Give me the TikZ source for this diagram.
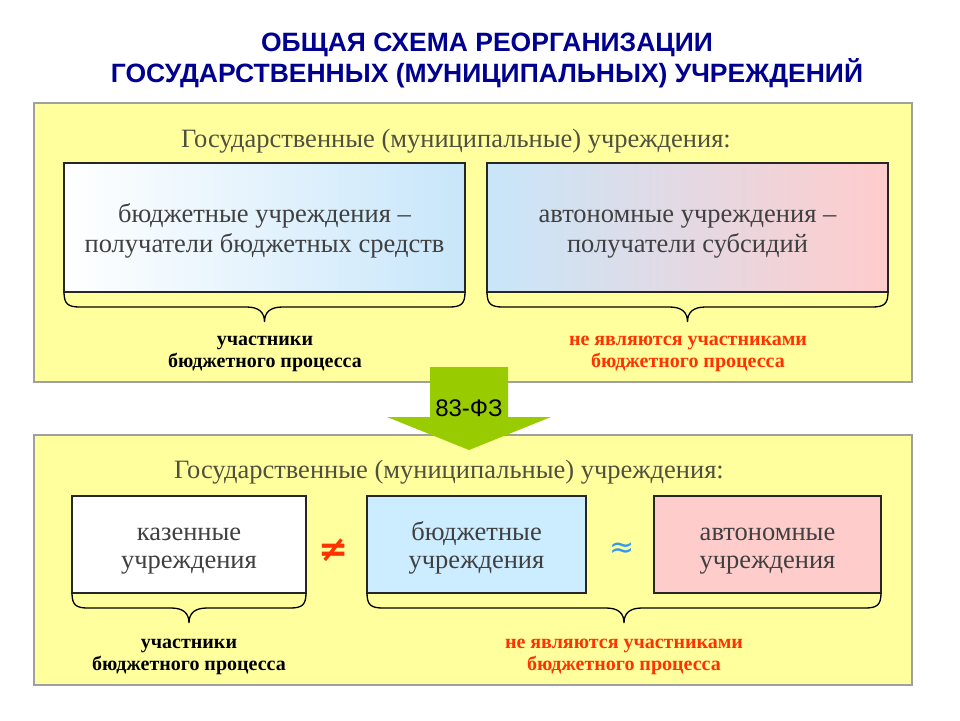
\documentclass[tikz,border=0pt]{standalone}
\usepackage{fontspec}
\setmainfont{Liberation Serif}
\newfontfamily\arialfont{Liberation Sans}
\newfontfamily\symfont{DejaVu Sans}
\usetikzlibrary{calc}
\definecolor{panelyellow}{HTML}{FFFF9E}
\definecolor{panelborder}{HTML}{A0A0A0}
\definecolor{titleblue}{HTML}{000090}
\definecolor{arrowgreen}{HTML}{99CC00}
\definecolor{redtext}{HTML}{FF3300}
\definecolor{boxtext}{HTML}{404040}
\definecolor{labeltext}{HTML}{505040}
\definecolor{lightblue}{HTML}{C8E6FA}
\definecolor{lightblueB}{HTML}{CCECFF}
\definecolor{lightpink}{HTML}{FFCCCC}
\definecolor{approxblue}{HTML}{3399EE}
\newcommand{\drawbrace}[2]{%
 \draw[bracestyle] let \p1=(#1), \p2=(#2), \p3=($(#1)!0.5!(#2)$) in
 (\x1,\y1) .. controls (\x1,\y1-12pt) and (\x1+4pt,\y1-15pt) .. (\x1+16pt,\y1-15pt)
 -- (\x3-18pt,\y1-15pt) .. controls (\x3-6pt,\y1-15pt) and (\x3,\y1-20pt) .. (\x3,\y1-30pt)
 .. controls (\x3,\y1-20pt) and (\x3+6pt,\y1-15pt) .. (\x3+18pt,\y1-15pt)
 -- (\x2-16pt,\y1-15pt) .. controls (\x2-4pt,\y1-15pt) and (\x2,\y1-12pt) .. (\x2,\y1);}
\begin{document}
\begin{tikzpicture}[x=1pt,y=-1pt,
  panel/.style={draw=panelborder, line width=1.5pt, fill=panelyellow, inner sep=0pt, outer sep=0pt},
  boxframe/.style={draw=black!85, line width=1.2pt, inner sep=0pt, outer sep=0pt},
  textA/.style={align=center, inner sep=0pt, text=boxtext, font=\fontsize{26.5}{30}\selectfont},
  textB/.style={align=center, inner sep=0pt, text=boxtext, font=\fontsize{26.5}{28}\selectfont},
  bracestyle/.style={draw=black, line width=1.3pt},
  grouplabel/.style={anchor=base, text=labeltext, font=\fontsize{26.5}{30}\selectfont},
  blacknote/.style={align=center, font=\bfseries\fontsize{20}{22}\selectfont, text=black},
  rednote/.style={align=center, font=\bfseries\fontsize{20}{22}\selectfont, text=redtext},
  titlestyle/.style={anchor=base, text=titleblue, font=\arialfont\bfseries\fontsize{26.5}{31}\selectfont}
]
\useasboundingbox[fill=white] (0,0) rectangle (960,720);
% title
\node[titlestyle] (t1) at (487,51) {ОБЩАЯ СХЕМА РЕОРГАНИЗАЦИИ};
\node[titlestyle] (t2) at (487,82) {ГОСУДАРСТВЕННЫХ (МУНИЦИПАЛЬНЫХ) УЧРЕЖДЕНИЙ};
% panels
\node[panel, minimum width=878pt, minimum height=279pt] (ptop) at (473,242.5) {};
\node[panel, minimum width=878pt, minimum height=250pt] (pbot) at (473,560) {};
% top panel
\node[grouplabel] (lab1) at (456,147) {Государственные (муниципальные) учреждения:};
\node[boxframe, minimum width=401pt, minimum height=129pt, left color=white, right color=lightblue] (b1) at (264.5,227.5) {};
\node[textA] (b1t) at ($(b1.center)+(0,4)$) {\strut бюджетные учреждения –\\\strut получатели бюджетных средств};
\node[boxframe, minimum width=401pt, minimum height=129pt, left color=lightblue, right color=lightpink] (b2) at (687.5,227.5) {};
\node[textA] (b2t) at ($(b2.center)+(0,4)$) {\strut автономные учреждения –\\\strut получатели субсидий};
\drawbrace{b1.south west}{b1.south east}
\drawbrace{b2.south west}{b2.south east}
\node[blacknote, anchor=base] (n1) at (265,367) {участники\\бюджетного процесса};
\node[rednote, anchor=base] (n2) at (688,367) {не являются участниками\\бюджетного процесса};
% arrow
\draw[draw=none, fill=arrowgreen] (430,367) -- (508,367) -- (508,417) -- (551,417) -- (469,450) -- (387,417) -- (430,417) -- cycle;
\node[font=\arialfont\fontsize{24}{26}\selectfont, text=black] (law) at (469,408) {83-ФЗ};
% bottom panel
\node[grouplabel] (lab2) at (449,478) {Государственные (муниципальные) учреждения:};
\node[boxframe, minimum width=234pt, minimum height=97pt, fill=white] (c1) at (189,544.5) {};
\node[textB] (c1t) at ($(c1.center)+(0,4)$) {\strut казенные\\\strut учреждения};
\node[boxframe, minimum width=219pt, minimum height=97pt, fill=lightblueB] (c2) at (476.5,544.5) {};
\node[textB] (c2t) at ($(c2.center)+(0,4)$) {\strut бюджетные\\\strut учреждения};
\node[boxframe, minimum width=227pt, minimum height=97pt, fill=lightpink] (c3) at (767.5,544.5) {};
\node[textB] (c3t) at ($(c3.center)+(0,4)$) {\strut автономные\\\strut учреждения};
\node[text=redtext, font=\symfont\bfseries\fontsize{36}{36}\selectfont] (neq) at (334,550) {≠};
\node[text=approxblue, font=\symfont\fontsize{30}{30}\selectfont] (approx) at (622,550) {≈};
\drawbrace{c1.south west}{c1.south east}
\drawbrace{c2.south west}{c3.south east}
\node[blacknote, anchor=base] (n3) at (189,670) {участники\\бюджетного процесса};
\node[rednote, anchor=base] (n4) at (624,670) {не являются участниками\\бюджетного процесса};
\end{tikzpicture}
\end{document}
